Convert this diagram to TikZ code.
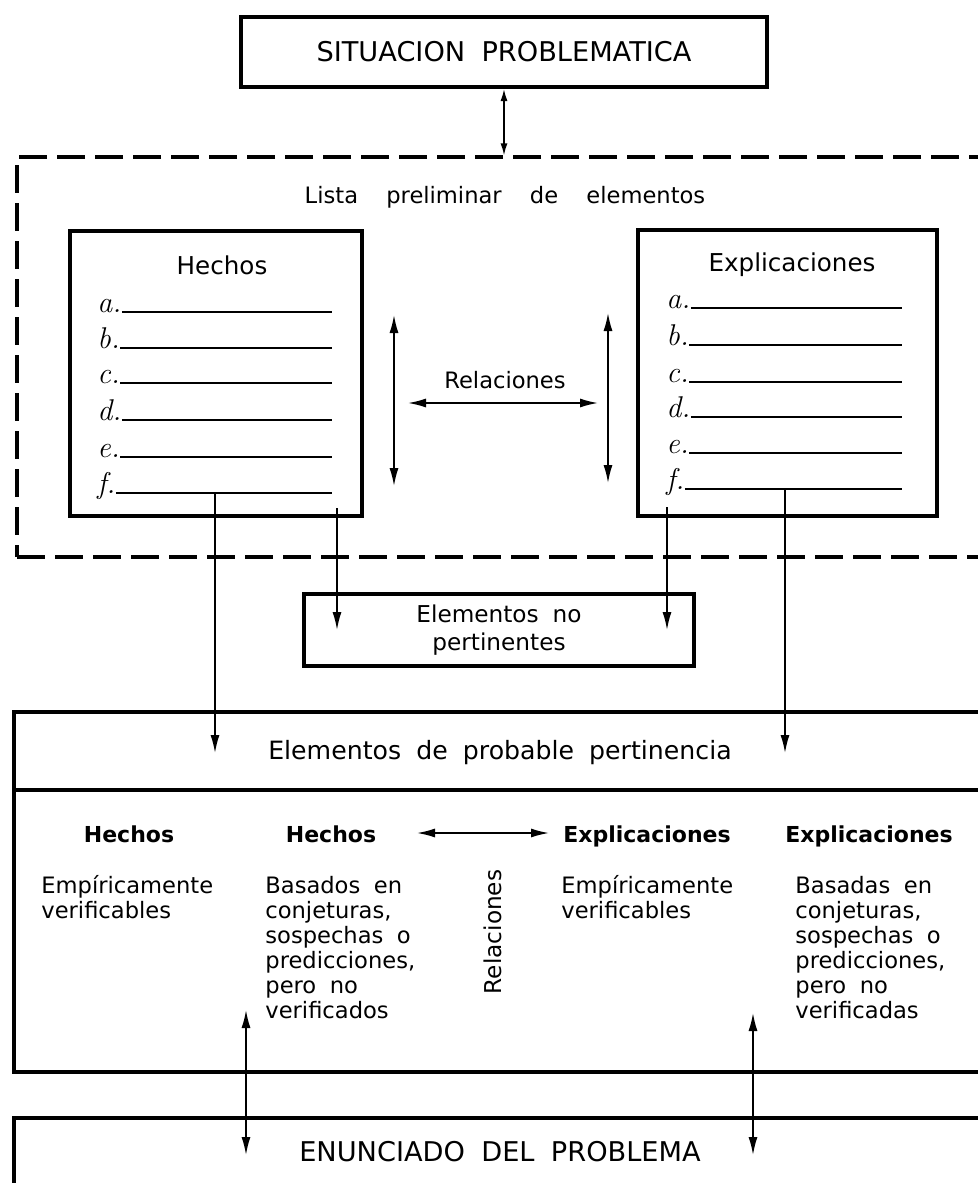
\documentclass[tikz,border=0pt]{standalone}
\usepackage{fontspec}
\newfontfamily\dejavu{DejaVu Sans}
\usetikzlibrary{arrows.meta,positioning}

\newcommand\textosz{\dejavu\fontsize{11.3}{12.5}\selectfont\spaceskip=.6em\relax}
\newcommand\titulosz{\dejavu\fontsize{13.6}{16}\selectfont\spaceskip=.6em\relax}
\newcommand\listasz{\dejavu\fontsize{11.3}{12.5}\selectfont\spaceskip=1.25em\relax}
\newcommand\nopertsz{\dejavu\fontsize{11.6}{14}\selectfont\spaceskip=.6em\relax}
\newcommand\probsz{\dejavu\fontsize{12.6}{15}\selectfont\spaceskip=.6em\relax}

\begin{document}
\begin{tikzpicture}[
    x=0.5pt, y=-0.5pt,
    font=\textosz,
    box/.style={draw, line width=2pt, inner sep=0pt},
    dashbox/.style={draw, line width=1.6pt, dash pattern=on 14pt off 5pt, inner sep=0pt},
    arrow/.style={-{Latex[length=9pt,width=4.5pt]}, line width=0.8pt},
    dblarrow/.style={{Latex[length=9pt,width=4.5pt]}-{Latex[length=9pt,width=4.5pt]}, line width=0.8pt},
    blank/.style={draw, line width=0.7pt},
    titulo/.style={font=\titulosz},
    boxtitle/.style={font=\dejavu\fontsize{12.3}{14}\selectfont},
    letra/.style={font=\normalfont\itshape\fontsize{15}{16}\selectfont, anchor=base west, inner sep=0pt},
    head/.style={font=\dejavu\bfseries\fontsize{11}{13}\selectfont, anchor=base},
    body/.style={text width=92pt, align=flush left, anchor=base west, inner sep=0pt}
]
\useasboundingbox (0,0) rectangle (978,1183);
\clip (0,0) rectangle (978,1183);

% top
\node[box, titulo, minimum width=263pt, minimum height=35pt] (situacion) at (504,52) {SITUACION PROBLEMATICA};
\node[dashbox, minimum width=496.5pt, minimum height=200pt] (lista) at (513.5,357) {};
\draw[{Latex[length=6pt,width=3.5pt]}-{Latex[length=6pt,width=3.5pt]}, line width=0.8pt] (situacion.south) -- (situacion.south |- lista.north);
\node[font=\listasz] (listatit) at (505,197) {Lista preliminar de elementos};

% hechos / explicaciones
\node[box, minimum width=146pt, minimum height=142.5pt] (hechos) at (216,373.5) {};
\node[boxtitle] (hechostit) at (222,265) {Hechos};
\foreach \l/\y in {a/312, b/348, c/383, d/420, e/457, f/493} {
  \node[letra] (h\l) at (97,\y) {\l.};
  \draw[blank] (h\l.base east) -- (332,\y);
}
\node[box, minimum width=149.5pt, minimum height=143pt] (explic) at (787.5,373) {};
\node[boxtitle] (explictit) at (792,265) {Explicaciones};
\foreach \l/\y in {a/308, b/345, c/382, d/417, e/453, f/489} {
  \node[letra] (e\l) at (666,\y) {\l.};
  \draw[blank] (e\l.base east) -- (902,\y);
}

\node (relac) at (505,380) {Relaciones};
\coordinate (rizq) at (408,403);
\coordinate (rder) at (598,403);
\draw[dblarrow] (rizq) -- (rder);
\draw[dblarrow] (394,315) -- (394,486);
\draw[dblarrow] (608,313) -- (608,483);

% no pertinentes
\node[box, minimum width=195pt, minimum height=36pt, align=center, font=\nopertsz] (nopert) at (499,630) {Elementos no\\pertinentes};

% probable pertinencia
\node[box, minimum width=498pt, minimum height=180pt] (probable) at (512,892) {};
\draw[line width=2pt] (probable.west |- 0,790) -- (probable.east |- 0,790);
\node[font=\probsz] (probtit) at (500,753) {Elementos de probable pertinencia};

\coordinate (hf) at (215,493);
\coordinate (hx) at (337,508);
\coordinate (ex) at (667,507);
\coordinate (ef) at (785,489);
\draw[arrow] (hf) -- (hf |- probtit);
\draw[arrow] (ef) -- (ef |- probtit);
\draw[arrow] (hx) -- (hx |- nopert.center);
\draw[arrow] (ex) -- (ex |- nopert.center);

\node[head] (h1) at (129,842) {Hechos};
\node[head] (h2) at (331,842) {Hechos};
\node[head] (e1) at (647,842) {Explicaciones};
\node[head] (e2) at (869,842) {Explicaciones};
\coordinate (flizq) at (417,833);
\coordinate (flder) at (549,833);
\draw[dblarrow] (flizq) -- (flder);

\node[body] (b1) at (41,893) {Empíricamente\\verificables};
\node[body] (b2) at (265,893) {Basados en\\conjeturas,\\sospechas o\\predicciones,\\pero no\\verificados};
\node[rotate=90, font=\dejavu\fontsize{11.6}{14}\selectfont] (relvert) at (493,932) {Relaciones};
\node[body] (b3) at (561,893) {Empíricamente\\verificables};
\node[body] (b4) at (795,893) {Basadas en\\conjeturas,\\sospechas o\\predicciones,\\pero no\\verificadas};

% enunciado
\node[box, titulo, minimum width=498pt, minimum height=71pt] (enunciado) at (512,1189) {};
\node[titulo] (enuntit) at (500,1152) {ENUNCIADO DEL PROBLEMA};
\coordinate (d1a) at (246,1010);
\coordinate (d1b) at (246,1155);
\coordinate (d2a) at (753,1013);
\coordinate (d2b) at (753,1155);
\draw[dblarrow] (d1a) -- (d1b);
\draw[dblarrow] (d2a) -- (d2b);
\end{tikzpicture}
\end{document}
